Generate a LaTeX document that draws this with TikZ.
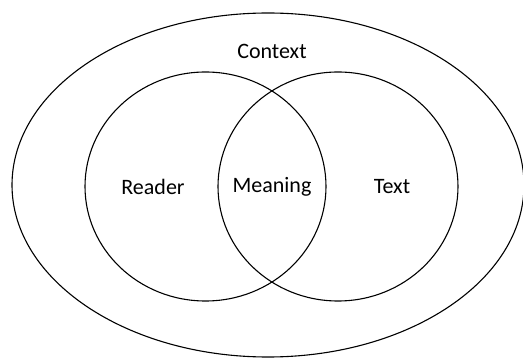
\documentclass[tikz,border=0pt]{standalone}
\usepackage{fontspec}
\setmainfont{Carlito}
\begin{document}
\begin{tikzpicture}[x=1pt,y=-1pt,line width=1.1pt, label text/.style={font=\fontsize{22}{26}\selectfont}]

\useasboundingbox (0,0) rectangle (523,358);

\begin{scope}
\coordinate (ctx) at (268,185);
\coordinate (rdr) at (205.5,186.5);
\coordinate (txt) at (338,186.5);

\draw (ctx) ellipse (256 and 172);
\draw (rdr) ellipse (120.5 and 114.5);
\draw (txt) ellipse (120 and 114.5);

\node[label text] (context) at (272,51) {Context};
\node[label text] (reader) at (153,187) {Reader};
\node[label text] (meaning) at (272,187) {Meaning};
\node[label text] (text) at (392,187) {Text};

%\draw[red] (272,91) circle (2);
%\draw[red] (272,283) circle (2);
\end{scope}

\end{tikzpicture}
\end{document}
